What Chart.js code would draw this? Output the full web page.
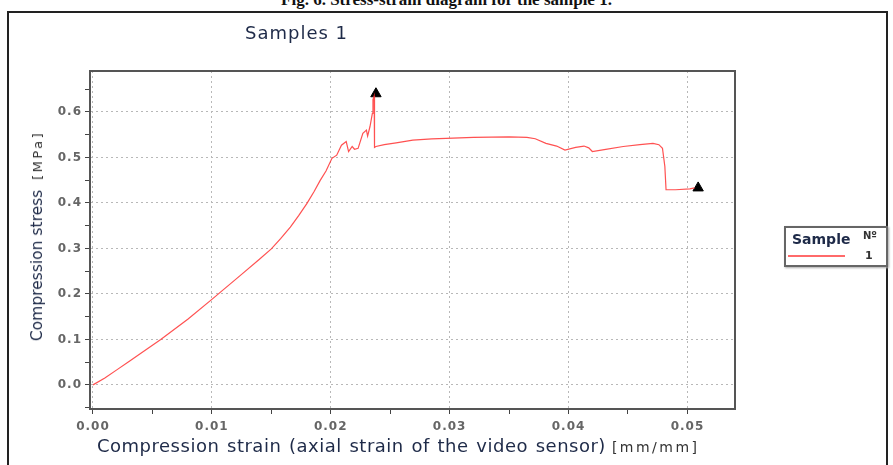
<!DOCTYPE html>
<html>
<head>
<meta charset="utf-8">
<script src="https://cdn.jsdelivr.net/npm/chart.js@4"></script>
<style>
  html, body { margin: 0; padding: 0; background: #fff; }
  #wrap { position: relative; width: 893px; height: 465px; overflow: hidden; }
  #chart { position: absolute; left: 0; top: 0; }
  .frame { position: absolute; left: 7px; top: 11px; width: 881px; height: 470px; border: 2px solid #222; box-sizing: border-box; }
  .caption { position: absolute; left: 0; width: 893px; top: -10px; text-align: center; font: bold 17px "Liberation Serif", serif; color: #111; }
  .title { position: absolute; left: 245px; top: 22px; font: 18px "DejaVu Sans", sans-serif; letter-spacing: 1px; color: #1e2a48; }
  .xtitle { position: absolute; left: 97px; top: 435px; white-space: nowrap; font: 18px "DejaVu Sans", sans-serif;
            letter-spacing: 0.5px; word-spacing: 1.5px; color: #1e2a48; }
  .xtitle span { margin-left: 6px; font: 14px "DejaVu Sans", sans-serif; letter-spacing: 2.5px; word-spacing: 0; color: #333; }
  .ytitle span { font: 13px "DejaVu Sans", sans-serif; letter-spacing: 2.5px; color: #333; }
  .ytitle { position: absolute; left: 37px; top: 236px; white-space: nowrap; font: 15.5px "DejaVu Sans", sans-serif; color: #1e2a48;
            transform: translate(-50%, -50%) rotate(-90deg); }
  .legend { position: absolute; left: 784px; top: 226px; width: 104px; height: 41px; border: 2px solid #666; box-sizing: border-box;
            box-shadow: 1px 1px 2px #aaa; background: #fff; }
  .legend .name { position: absolute; left: 6px; top: 3px; font: bold 14px "DejaVu Sans", sans-serif; color: #1e2a48; }
  .legend .no { position: absolute; left: 77px; top: 2px; font: bold 10px "DejaVu Sans", sans-serif; color: #333; }
  .legend .line { position: absolute; left: 2px; top: 27px; width: 57px; height: 2px; background: #ff6a6a; }
  .legend .one { position: absolute; left: 79px; top: 21px; font: bold 11px "DejaVu Sans", sans-serif; color: #333; }
</style>
</head>
<body>
<div id="wrap">
  <div class="caption">Fig. 6. Stress-strain diagram for the sample 1.</div>
  <div class="frame"></div>
  <canvas id="chart" width="893" height="465"></canvas>
  <div class="title">Samples 1</div>
  <div class="ytitle">Compression stress &nbsp;<span>[MPa]</span></div>
  <div class="xtitle">Compression strain (axial strain of the video sensor)<span>[mm/mm]</span></div>
  <div class="legend">
    <div class="name">Sample</div>
    <div class="no">Nº</div>
    <div class="line"></div>
    <div class="one">1</div>
  </div>
</div>
<script>
// curve: strain [mm/mm] / stress [MPa]
const strain = [0, 0.001, 0.002, 0.003, 0.004, 0.0057, 0.008, 0.0100, 0.0105, 0.0125, 0.0140, 0.0150,
  0.0158, 0.0166, 0.0173, 0.0180, 0.0186, 0.0191, 0.0196, 0.0201, 0.0205, 0.0209, 0.0213, 0.0215,
  0.0218, 0.0220, 0.0223, 0.0227, 0.0230, 0.0231, 0.0233, 0.0235, 0.02355, 0.02365, 0.02368, 0.0238,
  0.0245, 0.0255, 0.0269, 0.0285, 0.0297, 0.032, 0.035, 0.0365, 0.0372, 0.0381, 0.0390, 0.0397,
  0.0406, 0.0413, 0.0417, 0.0420, 0.0430, 0.0446, 0.046, 0.0471, 0.0476, 0.0479, 0.0481, 0.0482,
  0.0490, 0.0502, 0.0506];
const stress = [0, 0.015, 0.033, 0.051, 0.069, 0.100, 0.145, 0.188, 0.199, 0.243, 0.276, 0.299,
  0.322, 0.347, 0.372, 0.399, 0.425, 0.449, 0.470, 0.498, 0.505, 0.527, 0.535, 0.513,
  0.524, 0.518, 0.520, 0.553, 0.560, 0.547, 0.568, 0.597, 0.627, 0.635, 0.522, 0.524,
  0.528, 0.532, 0.538, 0.541, 0.542, 0.544, 0.545, 0.544, 0.541, 0.531, 0.525, 0.516,
  0.522, 0.525, 0.521, 0.513, 0.517, 0.524, 0.528, 0.531, 0.528, 0.520, 0.480, 0.429,
  0.429, 0.431, 0.433];
// triangle markers
const markStrain = [0.0238, 0.0509];
const markStress = [0.640, 0.433];

const xTicks = [0, 0.005, 0.01, 0.015, 0.02, 0.025, 0.03, 0.035, 0.04, 0.045, 0.05];
const xLabels = ['0.00', '', '0.01', '', '0.02', '', '0.03', '', '0.04', '', '0.05'];
const yTicks = [-0.05, 0, 0.05, 0.1, 0.15, 0.2, 0.25, 0.3, 0.35, 0.4, 0.45, 0.5, 0.55, 0.6, 0.65];
const yLabels = ['', '0.0', '', '0.1', '', '0.2', '', '0.3', '', '0.4', '', '0.5', '', '0.6', ''];

const curve = strain.map((x, i) => ({ x: x, y: stress[i] }));
const marks = markStrain.map((x, i) => ({ x: x, y: markStress[i] }));

const gridColor = (labels) => (ctx) => (ctx.tick && labels[ctx.index] ? '#b8b8b8' : 'rgba(0,0,0,0)');

const plotFrame = {
  id: 'plotFrame',
  beforeDraw(chart) {
    chart.ctx.letterSpacing = '1px';
  },
  afterDraw(chart) {
    const { ctx, chartArea: a } = chart;
    ctx.save();
    ctx.strokeStyle = '#555';
    ctx.lineWidth = 2;
    ctx.beginPath();
    ctx.moveTo(a.left, a.top);
    ctx.lineTo(a.right, a.top);
    ctx.lineTo(a.right, a.bottom);
    ctx.stroke();
    ctx.restore();
  }
};

new Chart(document.getElementById('chart'), {
  type: 'scatter',
  data: {
    datasets: [
      {
        data: curve,
        showLine: true,
        borderColor: 'rgba(255, 50, 50, 0.85)',
        borderWidth: 1.2,
        pointRadius: 0,
        tension: 0
      },
      {
        data: marks,
        pointStyle: 'triangle',
        pointRadius: 6,
        backgroundColor: '#000',
        borderColor: '#000'
      }
    ]
  },
  options: {
    responsive: false,
    animation: false,
    layout: { padding: { left: 0, top: 71, right: 158, bottom: 0 } },
    plugins: { legend: { display: false }, tooltip: { enabled: false } },
    scales: {
      x: {
        type: 'linear',
        min: -0.00025,
        max: 0.054,
        afterBuildTicks: (s) => { s.ticks = xTicks.map(v => ({ value: v })); },
        afterFit: (s) => { s.height = 56; },
        border: { color: '#555', width: 2, dash: [2, 3] },
        grid: { color: gridColor(xLabels), tickColor: '#444', tickLength: 5, tickBorderDash: [] },
        ticks: {
          callback: (v, i) => xLabels[i],
          autoSkip: false,
          maxRotation: 0,
          padding: 6,
          color: '#666',
          font: { family: 'DejaVu Sans', size: 12, weight: 'bold' }
        }
      },
      y: {
        min: -0.053,
        max: 0.69,
        afterBuildTicks: (s) => { s.ticks = yTicks.map(v => ({ value: v })); },
        afterFit: (s) => { s.width = 90; },
        border: { color: '#555', width: 2, dash: [2, 3] },
        grid: { color: gridColor(yLabels), tickColor: '#444', tickLength: 5, tickBorderDash: [] },
        ticks: {
          callback: (v, i) => yLabels[i],
          autoSkip: false,
          padding: 3,
          color: '#666',
          font: { family: 'DejaVu Sans', size: 12, weight: 'bold' }
        }
      }
    }
  },
  plugins: [plotFrame]
});
</script>
</body>
</html>
